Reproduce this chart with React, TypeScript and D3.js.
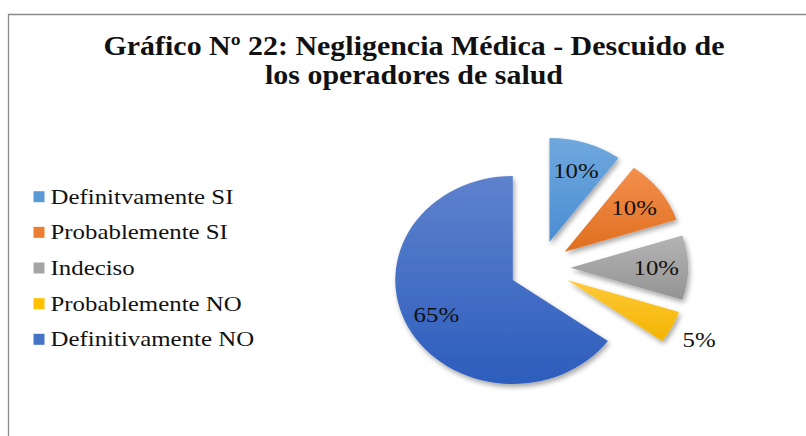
import React from "react";
import * as d3 from "d3";

const categories = ["Definitvamente SI", "Probablemente SI", "Indeciso", "Probablemente NO", "Definitivamente NO"];
const values = [10, 10, 10, 5, 65];
const labels = ["10%", "10%", "10%", "5%", "65%"];
const colorsTop = ["#70A8DE", "#F2904D", "#B4B4B4", "#FFCA3A", "#5E82CD"];
const colorsBottom = ["#4A8ED2", "#E06E1F", "#939393", "#F2B300", "#2D5DBD"];
const legendColors = ["#5B9BD5", "#ED7D31", "#A5A5A5", "#FFC000", "#4472C4"];
const titleLines = ["Gráfico Nº 22: Negligencia Médica - Descuido de", "los operadores de salud"];

const W = 806, H = 436;
const SX = 1.13;
const CX = 540, CY = 267.7, R = 104, EXPLODE = 27;
const SERIF = `"Liberation Serif"`;

export default function App() {
  const pie = d3.pie<number>().sort(null).startAngle(0).endAngle(2 * Math.PI);
  const arcs = pie(values);
  const arc = d3.arc<d3.PieArcDatum<number>>().innerRadius(0).outerRadius(R);
  const legendY = d3.scaleLinear().domain([0, categories.length - 1]).range([196.7, 339.3]);

  return (
    <svg width={W} height={H} style={{ position: "fixed", left: 0, top: 0, background: "#fff" }}>
      <defs>
        {arcs.map((a, i) => (
          <linearGradient key={i} id={`g${i}`} x1="0" y1="0" x2="0" y2="1">
            <stop offset="0" stopColor={colorsTop[i]} />
            <stop offset="1" stopColor={colorsBottom[i]} />
          </linearGradient>
        ))}
        <filter id="sh" x="-30%" y="-30%" width="160%" height="160%">
          <feDropShadow dx="1.5" dy="3" stdDeviation="2.5" floodColor="#000" floodOpacity="0.35" />
        </filter>
      </defs>
      <rect x={0} y={0} width={W} height={H} fill="#fff" />
      <path d={`M8.5,${H + 5} V14.5 H${W + 5}`} fill="none" stroke="#8a8a8a" strokeWidth={1.3} />
      {titleLines.map((t, i) => (
        <text key={i} transform={`translate(414,${54.5 + i * 29}) scale(${SX},1)`} textAnchor="middle"
          style={{ fontFamily: SERIF, fontWeight: "bold", fontSize: "26.5px" }} fill="#111">{t}</text>
      ))}
      <g transform={`translate(${CX},${CY}) scale(${SX},1)`}>
        {arcs.map((a, i) => {
          const mid = (a.startAngle + a.endAngle) / 2;
          return (
            <path key={i} d={arc(a) || ""} fill={`url(#g${i})`} filter="url(#sh)"
              transform={`translate(${EXPLODE * Math.sin(mid)},${-EXPLODE * Math.cos(mid)})`} />
          );
        })}
      </g>
      {arcs.map((a, i) => {
        const mid = (a.startAngle + a.endAngle) / 2;
        const lr = values[i] >= 10 ? 0.73 * R : 1.26 * R;
        const r = EXPLODE + lr;
        const x = CX + SX * r * Math.sin(mid);
        const y = CY - r * Math.cos(mid);
        return (
          <text key={i} transform={`translate(${x},${y}) scale(${SX},1)`} textAnchor="middle" dy="0.35em"
            style={{ fontFamily: SERIF, fontSize: "22px" }} fill="#111">{labels[i]}</text>
        );
      })}
      {categories.map((c, i) => (
        <g key={i} transform={`translate(0,${legendY(i)})`}>
          <rect x={33.5} y={-5.5} width={11} height={11} fill={legendColors[i]} />
          <text transform={`translate(50.5,7) scale(${SX},1)`}
            style={{ fontFamily: SERIF, fontSize: "22px" }} fill="#111">{c}</text>
        </g>
      ))}
    </svg>
  );
}
